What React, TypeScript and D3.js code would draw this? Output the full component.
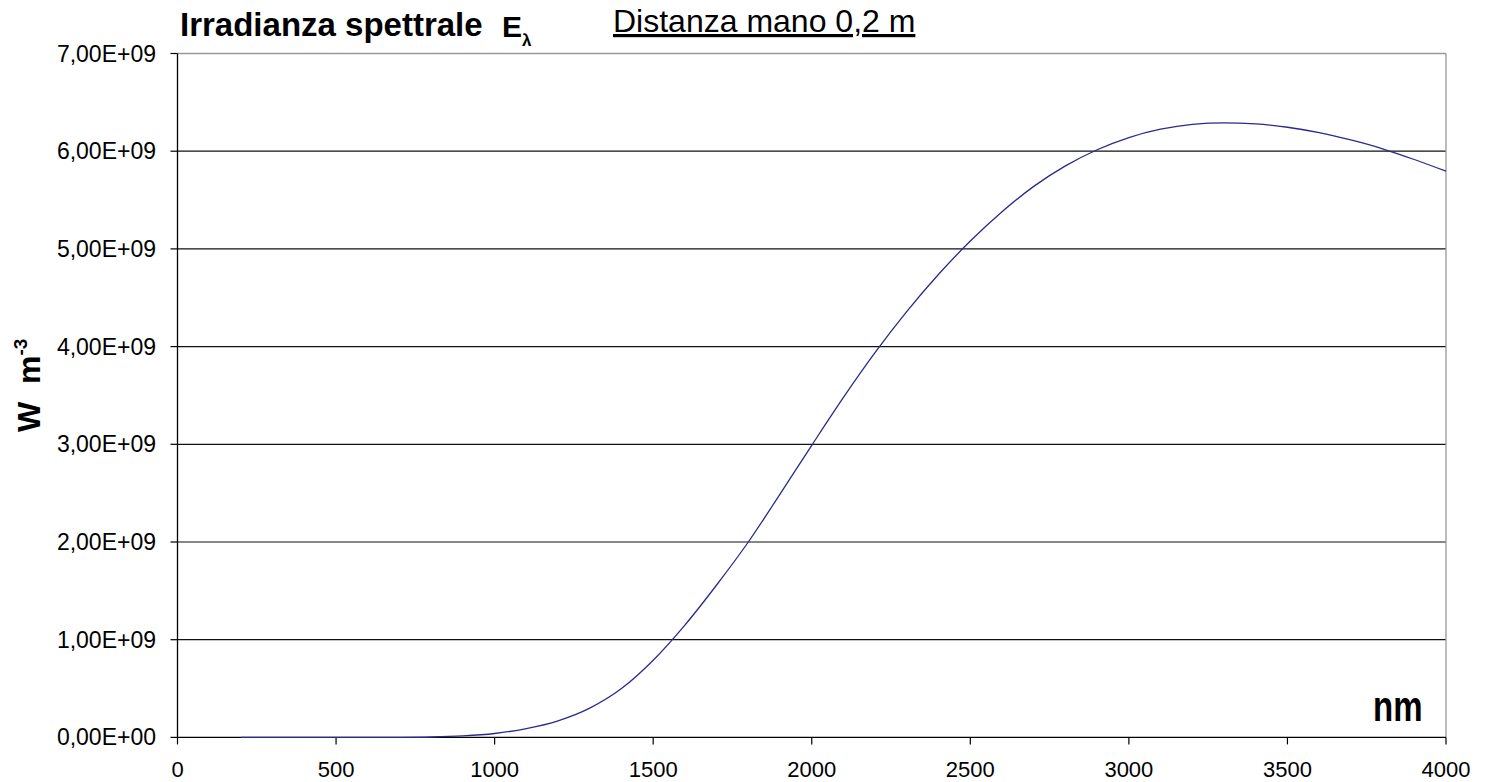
import React from "react";
import * as d3 from "d3";

const wavelengths = [200, 300, 400, 500, 600, 700, 800, 900, 1000, 1100, 1200, 1300, 1400, 1500, 1600, 1700, 1800, 1900, 2000, 2100, 2200, 2300, 2400, 2500, 2600, 2700, 2800, 2900, 3000, 3100, 3200, 3300, 3400, 3500, 3600, 3700, 3800, 3900, 4000];
const irradiance = [0, 0, 0, 0, 0, 0.0005e9, 0.004e9, 0.015e9, 0.04e9, 0.09e9, 0.17e9, 0.3e9, 0.5e9, 0.79e9, 1.15e9, 1.56e9, 2.0e9, 2.49e9, 2.99e9, 3.48e9, 3.94e9, 4.36e9, 4.74e9, 5.08e9, 5.38e9, 5.64e9, 5.85e9, 6.015e9, 6.14e9, 6.225e9, 6.275e9, 6.29e9, 6.28e9, 6.245e9, 6.19e9, 6.115e9, 6.025e9, 5.915e9, 5.795e9];
const xTicks = [0, 500, 1000, 1500, 2000, 2500, 3000, 3500, 4000];
const yTicks = [0, 1e9, 2e9, 3e9, 4e9, 5e9, 6e9, 7e9];
const yTickLabels = ["0,00E+00", "1,00E+09", "2,00E+09", "3,00E+09", "4,00E+09", "5,00E+09", "6,00E+09", "7,00E+09"];

export default function App() {
  const left = 177.5, right = 1446, top = 53.5, bottom = 737.4;
  const x = d3.scaleLinear().domain([0, 4000]).range([left, right]);
  const y = d3.scaleLinear().domain([0, 7e9]).range([bottom, top]);
  const pts = wavelengths.map((w, i) => [w, irradiance[i]] as [number, number]);
  const line = d3.line<[number, number]>().x(d => x(d[0])).y(d => y(d[1])).curve(d3.curveMonotoneX);
  const font = "'Liberation Sans', Arial, sans-serif";

  return (
    <svg width={1485} height={782} style={{ position: "absolute", left: 0, top: 0, background: "#fff" }} fontFamily={font}>
      <rect x={0} y={0} width={1485} height={782} fill="#fff" />
      {yTicks.slice(1, 7).map(t => (
        <line key={t} x1={left} x2={right} y1={y(t)} y2={y(t)} stroke="#111" strokeWidth={1.2} />
      ))}
      <line x1={left} x2={right} y1={y(7e9)} y2={y(7e9)} stroke="#999" strokeWidth={1.3} />
      <line x1={right} x2={right} y1={top} y2={bottom} stroke="#999" strokeWidth={1.3} />
      <line x1={left} x2={left} y1={top} y2={bottom} stroke="#000" strokeWidth={1.3} />
      <line x1={left} x2={right} y1={bottom} y2={bottom} stroke="#000" strokeWidth={1.3} />
      {yTicks.map((t, i) => (
        <g key={t}>
          <line x1={left - 7} x2={left} y1={y(t)} y2={y(t)} stroke="#000" strokeWidth={1.2} />
          <text x={156} y={y(t) + 8} textAnchor="end" fontSize={23} fill="#000">{yTickLabels[i]}</text>
        </g>
      ))}
      {xTicks.map(t => (
        <g key={t}>
          <line x1={x(t)} x2={x(t)} y1={bottom} y2={bottom + 7} stroke="#000" strokeWidth={1.2} />
          <text x={x(t)} y={777} textAnchor="middle" fontSize={22} fill="#000">{t}</text>
        </g>
      ))}
      <path d={line(pts) || ""} fill="none" stroke="#2a2a8c" strokeWidth={1.3} />
      <text x={180} y={36} fontSize={33} fontWeight="bold" fill="#000">Irradianza spettrale</text>
      <text x={502} y={37} fontSize={30} fontWeight="bold" fill="#000">E</text>
      <text x={522} y={46} fontSize={17} fontWeight="bold" fill="#000">λ</text>
      <text x={613} y={32} fontSize={32} fill="#000" textDecoration="underline">Distanza mano 0,2 m</text>
      <text transform="translate(40,432) rotate(-90)" fontSize={32} fontWeight="bold" fill="#000" style={{ whiteSpace: "pre" }}>
        <tspan>W  m</tspan>
        <tspan fontSize={19} dy={-13}>-3</tspan>
      </text>
      <text transform="translate(1373,721) scale(1,1.3)" fontSize={33} fontWeight="bold" fill="#000">nm</text>
    </svg>
  );
}
